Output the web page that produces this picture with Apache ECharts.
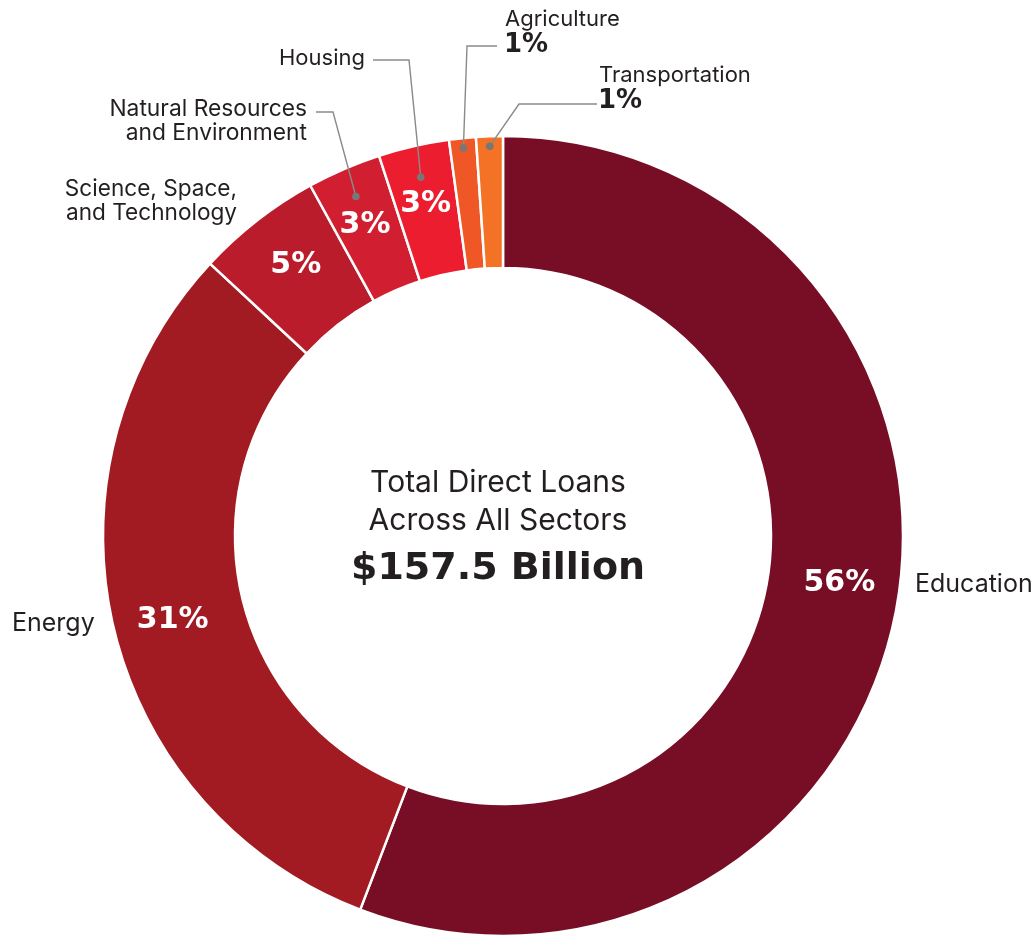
<!DOCTYPE html>
<html>
<head>
<meta charset="utf-8">
<title>Total Direct Loans Across All Sectors</title>
<script src="https://cdn.jsdelivr.net/npm/echarts@6/dist/echarts.min.js"></script>
<style>
  html, body { margin: 0; padding: 0; background: #ffffff; }
  #chart { width: 1036px; height: 936px; }
</style>
</head>
<body>
<div id="chart"></div>
<script>
// Direct loans by sector, in billions of dollars
const sectors = [
  'Education',
  'Energy',
  'Science, Space,\nand Technology',
  'Natural Resources\nand Environment',
  'Housing',
  'Agriculture',
  'Transportation'
];
const loansBillions = [87.9, 49.0, 8.0, 4.7, 4.5, 1.7, 1.7];
const centerTitle = ['Total Direct Loans', 'Across All Sectors'];
const centerTotal = '$157.5 Billion';

// ---- styling ----
const palette = ['#770E26', '#A21B23', '#BB1C2B', '#D11F31', '#EC1D2F', '#EF5726', '#F37225'];
const FONT = 'Inter, "Liberation Sans", Arial, sans-serif';
const BOLD_FONT = '"DejaVu Sans", Inter, Arial, sans-serif';
const TEXT = '#231F20';
const LEADER = '#8A8A8A';
const CX = 503, CY = 536, R_IN = 268, R_OUT = 400;

const total = loansBillions.reduce((a, b) => a + b, 0);
const pct = v => Math.round(v / total * 100) + '%';

// mid angle of a slice in degrees, clockwise from 12 o'clock
function midAngle(i) {
  let before = 0;
  for (let k = 0; k < i; k++) before += loansBillions[k];
  return (before + loansBillions[i] / 2) / total * 360;
}
function polar(i, r) {
  const a = midAngle(i) * Math.PI / 180;
  return [CX + r * Math.sin(a), CY - r * Math.cos(a)];
}

// inside % label nudges per slice
const insideLabel = {
  0: { offset: [5, -14] },
  1: { offset: [-2, 8] },
  2: { offset: [0, -5] },
  3: { offset: [-4, -2] },
  4: { offset: [-2, -3] }
};

const pieData = sectors.map((name, i) => {
  const item = {
    name: name,
    value: loansBillions[i],
    itemStyle: { color: palette[i] }
  };
  item.label = insideLabel[i]
    ? { show: true, offset: insideLabel[i].offset }
    : { show: false };
  return item;
});

// annotations: callouts with leader lines for the thin slices
const graphics = [];
function text(str, x, y, opts) {
  graphics.push({
    type: 'text',
    silent: true,
    z: 100,
    style: Object.assign({
      text: str,
      x: x,
      y: y,
      fill: TEXT,
      font: '22px ' + FONT,
      textAlign: 'left',
      textVerticalAlign: 'middle'
    }, opts || {})
  });
}
function callout(i, dotR, elbow, end) {
  const dot = polar(i, dotR);
  graphics.push({
    type: 'polyline',
    silent: true,
    z: 100,
    shape: { points: [dot, elbow, end] },
    style: { stroke: LEADER, lineWidth: 1.4, fill: null }
  });
  graphics.push({
    type: 'circle',
    silent: true,
    z: 101,
    shape: { cx: dot[0], cy: dot[1], r: 3.8 },
    style: { fill: '#777777' }
  });
}

// Housing
callout(4, 368, [409, 60], [373, 60]);
text(sectors[4], 365, 58, { textAlign: 'right' });
// Natural Resources and Environment
callout(3, 370, [333, 112], [316, 112]);
text('Natural Resources', 307, 109, { textAlign: 'right', font: '22.8px ' + FONT });
text('and Environment', 307, 133, { textAlign: 'right', font: '22.8px ' + FONT });
// Science, Space, and Technology
text('Science, Space,', 237, 189, { textAlign: 'right', font: '22.6px ' + FONT });
text('and Technology', 237, 213, { textAlign: 'right', font: '22.6px ' + FONT });
// Agriculture
callout(5, 390, [467, 46], [497, 46]);
text(sectors[5], 505, 19);
text(pct(loansBillions[5]), 504, 45, { font: 'bold 26px ' + BOLD_FONT });
// Transportation
callout(6, 390, [519, 104], [597, 104]);
text(sectors[6], 599, 75);
text(pct(loansBillions[6]), 598, 101, { font: 'bold 26px ' + BOLD_FONT });
// large slice names
text(sectors[0], 915, 584, { font: '25px ' + FONT });
text(sectors[1], 12, 623, { font: '25px ' + FONT });
// center total
text(centerTitle[0], CX - 5, 483, { textAlign: 'center', font: '30px ' + FONT });
text(centerTitle[1], CX - 5, 521, { textAlign: 'center', font: '30px ' + FONT });
text(centerTotal, CX - 5, 569, { textAlign: 'center', font: 'bold 38px ' + BOLD_FONT });

const chart = echarts.init(document.getElementById('chart'), null, { renderer: 'canvas' });
chart.setOption({
  animation: false,
  backgroundColor: '#ffffff',
  series: [{
    type: 'pie',
    silent: true,
    center: [CX, CY],
    radius: [R_IN, R_OUT],
    startAngle: 90,
    clockwise: true,
    avoidLabelOverlap: false,
    itemStyle: { borderColor: '#ffffff', borderWidth: 2.5 },
    label: {
      show: true,
      position: 'inside',
      formatter: p => pct(p.value),
      color: '#ffffff',
      fontFamily: BOLD_FONT,
      fontWeight: 'bold',
      fontSize: 30
    },
    labelLine: { show: false },
    emphasis: { disabled: true },
    data: pieData
  }],
  graphic: graphics
});
</script>
</body>
</html>
